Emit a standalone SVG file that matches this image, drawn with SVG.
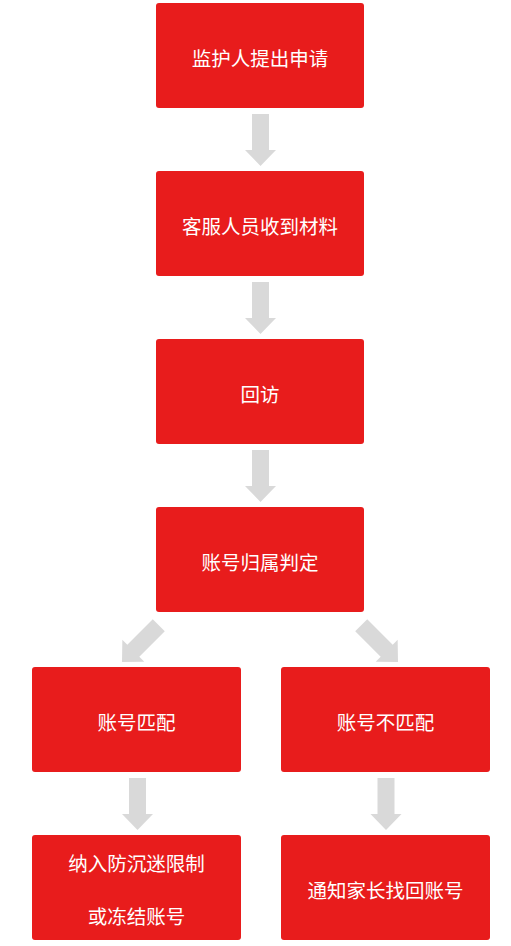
<svg xmlns="http://www.w3.org/2000/svg" width="511" height="946" viewBox="0 0 511 946">
<style>
.box{fill:#E81C1C}
.t{fill:#FFFFFF;font-family:"Microsoft YaHei","Noto Sans CJK SC","Noto Sans",sans-serif;font-size:19.5px;text-anchor:middle;dominant-baseline:central}
.arr{fill:#D9D9D9}
</style>
<defs>
<path id="a" d="M-8.5,-52 L8.5,-52 L8.5,-16 L15.5,-16 L0,0 L-15.5,-16 L-8.5,-16 Z"/>
</defs>
<rect width="511" height="946" fill="#FFFFFF"/>
<g id="connectors" class="arr">
<use href="#a" transform="translate(260.5,166)"/>
<use href="#a" transform="translate(260.5,334)"/>
<use href="#a" transform="translate(260.5,502)"/>
<use href="#a" transform="translate(122,662) rotate(45)"/>
<use href="#a" transform="translate(398,662) rotate(-45)"/>
<use href="#a" transform="translate(137.5,830)"/>
<use href="#a" transform="translate(386,830)"/>
</g>
<g id="n1"><rect class="box" x="156" y="3" width="208" height="105" rx="3"/><text class="t" x="260" y="57">监护人提出申请</text></g>
<g id="n2"><rect class="box" x="156" y="171" width="208" height="105" rx="3"/><text class="t" x="260" y="225">客服人员收到材料</text></g>
<g id="n3"><rect class="box" x="156" y="339" width="208" height="105" rx="3"/><text class="t" x="260" y="393">回访</text></g>
<g id="n4"><rect class="box" x="156" y="507" width="208" height="105" rx="3"/><text class="t" x="260" y="561">账号归属判定</text></g>
<g id="n5"><rect class="box" x="32" y="667" width="209" height="105" rx="3"/><text class="t" x="136.5" y="721">账号匹配</text></g>
<g id="n6"><rect class="box" x="281" y="667" width="209" height="105" rx="3"/><text class="t" x="385.5" y="721">账号不匹配</text></g>
<g id="n7"><rect class="box" x="32" y="835" width="209" height="105" rx="3"/><text class="t" x="136.5" y="862">纳入防沉迷限制</text><text class="t" x="136.5" y="915">或冻结账号</text></g>
<g id="n8"><rect class="box" x="281" y="835" width="209" height="105" rx="3"/><text class="t" x="385.5" y="889">通知家长找回账号</text></g>
</svg>
